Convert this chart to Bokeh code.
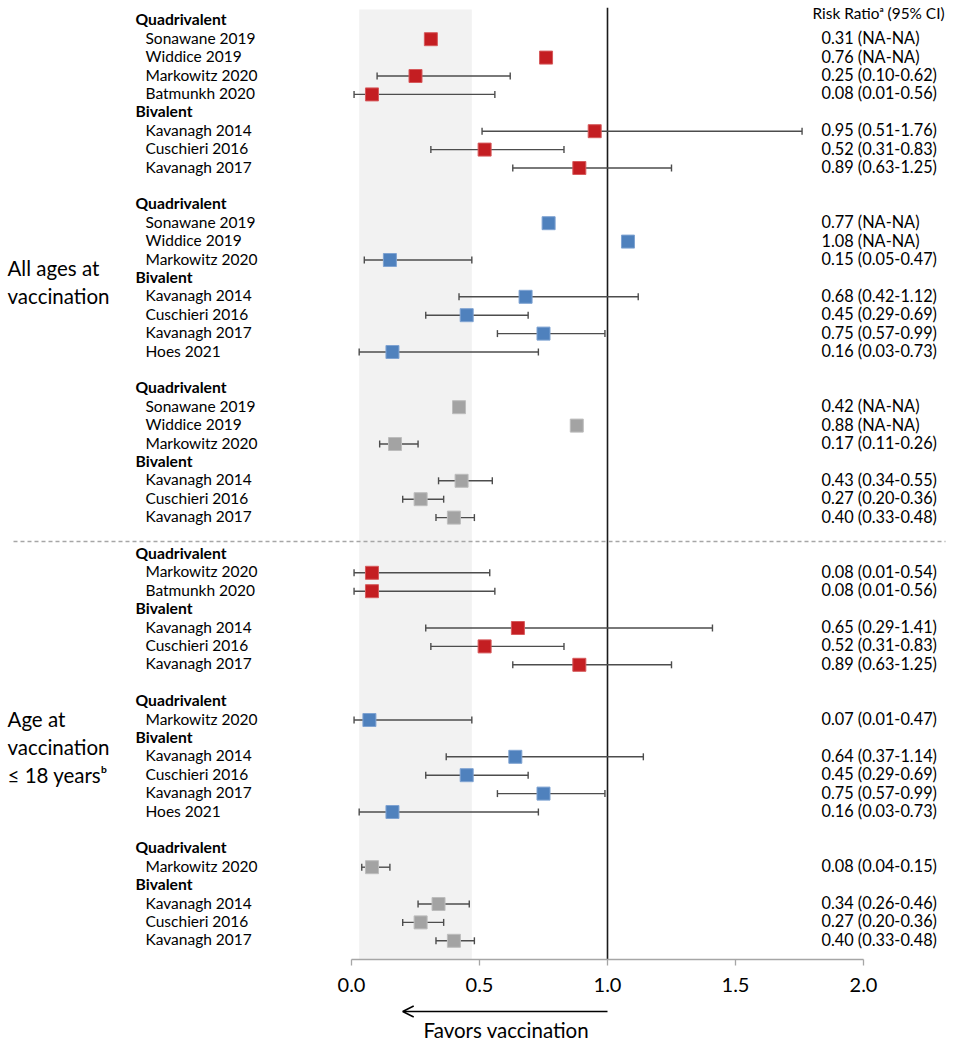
import math
from bokeh.plotting import figure
from bokeh.models import (ColumnDataSource, Range1d, LinearAxis, FixedTicker,
                          NumeralTickFormatter, Arrow, OpenHead)
from bokeh.core.properties import value
from bokeh.embed import file_html
from bokeh.resources import INLINE

NA = float("nan")

# ---------------- data ----------------
age_groups = ["All ages at\nvaccination", "Age at\nvaccination\n\u2264 18 years\u1d47"]
block_age = [0, 0, 0, 1, 1, 1]          # age group of each block
block_outcome = [0, 1, 2, 0, 1, 2]      # colour series of each block

block = [0]*7 + [1]*7 + [2]*6 + [3]*5 + [4]*5 + [5]*4
vaccine = (["Quadrivalent"]*4 + ["Bivalent"]*3 +
           ["Quadrivalent"]*3 + ["Bivalent"]*4 +
           ["Quadrivalent"]*3 + ["Bivalent"]*3 +
           ["Quadrivalent"]*2 + ["Bivalent"]*3 +
           ["Quadrivalent"]*1 + ["Bivalent"]*4 +
           ["Quadrivalent"]*1 + ["Bivalent"]*3)
study = ["Sonawane 2019", "Widdice 2019", "Markowitz 2020", "Batmunkh 2020",
         "Kavanagh 2014", "Cuschieri 2016", "Kavanagh 2017",
         "Sonawane 2019", "Widdice 2019", "Markowitz 2020",
         "Kavanagh 2014", "Cuschieri 2016", "Kavanagh 2017", "Hoes 2021",
         "Sonawane 2019", "Widdice 2019", "Markowitz 2020",
         "Kavanagh 2014", "Cuschieri 2016", "Kavanagh 2017",
         "Markowitz 2020", "Batmunkh 2020",
         "Kavanagh 2014", "Cuschieri 2016", "Kavanagh 2017",
         "Markowitz 2020",
         "Kavanagh 2014", "Cuschieri 2016", "Kavanagh 2017", "Hoes 2021",
         "Markowitz 2020",
         "Kavanagh 2014", "Cuschieri 2016", "Kavanagh 2017"]
rr = [0.31, 0.76, 0.25, 0.08, 0.95, 0.52, 0.89,
      0.77, 1.08, 0.15, 0.68, 0.45, 0.75, 0.16,
      0.42, 0.88, 0.17, 0.43, 0.27, 0.40,
      0.08, 0.08, 0.65, 0.52, 0.89,
      0.07, 0.64, 0.45, 0.75, 0.16,
      0.08, 0.34, 0.27, 0.40]
lo = [NA, NA, 0.10, 0.01, 0.51, 0.31, 0.63,
      NA, NA, 0.05, 0.42, 0.29, 0.57, 0.03,
      NA, NA, 0.11, 0.34, 0.20, 0.33,
      0.01, 0.01, 0.29, 0.31, 0.63,
      0.01, 0.37, 0.29, 0.57, 0.03,
      0.04, 0.26, 0.20, 0.33]
hi = [NA, NA, 0.62, 0.56, 1.76, 0.83, 1.25,
      NA, NA, 0.47, 1.12, 0.69, 0.99, 0.73,
      NA, NA, 0.26, 0.55, 0.36, 0.48,
      0.54, 0.56, 1.41, 0.83, 1.25,
      0.47, 1.14, 0.69, 0.99, 0.73,
      0.15, 0.46, 0.36, 0.48]
x_ticks = [0.0, 0.5, 1.0, 1.5, 2.0]
shade_lo, shade_hi = 0.03, 0.47
null_value = 1.0
arrow_from, arrow_to = 1.0, 0.2
arrow_label = "Favors vaccination"
column_header = "Risk Ratio\u1d43 (95% CI)"

# ---------------- styles ----------------
palette = ["#C41E22", "#4F81BD", "#A3A3A3"]
edge = ["#D65A5C", "#7FA3D2", "#BDBDBD"]
FONT = "Lato"

# ---------------- layout (rows) ----------------
rows, header_rows, header_text, sep_rows = [], [], [], []
r = 0
prev_b, prev_v = None, None
for i in range(len(study)):
    b = block[i]
    if prev_b is not None and b != prev_b:
        if block_age[b] != block_age[prev_b]:
            sep_rows.append(r + 0.3)
        r += 1
        prev_v = None
    if vaccine[i] != prev_v:
        header_rows.append(r)
        header_text.append(vaccine[i])
        r += 1
    rows.append(r)
    r += 1
    prev_b, prev_v = b, vaccine[i]
axis_row = r

W, H = 952, 1046
px_per_unit = 256.0
x0_px = 351.0
row_px = 18.4
row0_px = 20.3


def px2x(px):
    return (px - x0_px) / px_per_unit


x_start = px2x(0)
x_end = px2x(W)
y_top = -row0_px / row_px
y_bot = (H - row0_px) / row_px

p = figure(width=W, height=H, output_backend="svg", toolbar_location=None,
           x_range=Range1d(x_start, x_end), y_range=Range1d(y_bot, y_top),
           min_border=0, x_axis_type=None, y_axis_type=None)
p.outline_line_color = None
p.xgrid.visible = False
p.ygrid.visible = False

# shaded band
p.quad(left=[shade_lo], right=[shade_hi], top=[-0.61], bottom=[axis_row],
       fill_color="#F2F2F2", line_color=None)
# null line
p.segment(x0=[null_value], x1=[null_value], y0=[-0.71], y1=[axis_row],
          line_color="#1a1a1a", line_width=1.6)
# separators
for s in sep_rows:
    p.segment(x0=[px2x(13)], x1=[px2x(945)], y0=[s], y1=[s],
              line_color="#A6A6A6", line_width=1.3, line_dash="4 3")

# error bars + markers
cap = 0.19
for k in range(3):
    idx = [i for i in range(len(study)) if block_outcome[block[i]] == k]
    ci = [i for i in idx if not math.isnan(lo[i])]
    src_ci = ColumnDataSource(dict(y=[rows[i] for i in ci], lo=[lo[i] for i in ci],
                                   hi=[hi[i] for i in ci],
                                   yt=[rows[i] - cap for i in ci],
                                   yb=[rows[i] + cap for i in ci]))
    p.segment(x0="lo", x1="hi", y0="y", y1="y", source=src_ci,
              line_color="#4D4D4D", line_width=1.4)
    p.segment(x0="lo", x1="lo", y0="yt", y1="yb", source=src_ci,
              line_color="#4D4D4D", line_width=1.4)
    p.segment(x0="hi", x1="hi", y0="yt", y1="yb", source=src_ci,
              line_color="#4D4D4D", line_width=1.4)
    src_pt = ColumnDataSource(dict(x=[rr[i] for i in idx], y=[rows[i] for i in idx]))
    p.scatter(x="x", y="y", source=src_pt, marker="square", size=13,
              fill_color=palette[k], line_color=edge[k], line_width=1)

# texts
name_x = px2x(145)
head_x = px2x(135)
val_x = px2x(821)
colh_x = px2x(812)
grp_x = px2x(7)
dy = -0.08

p.text(x=[head_x]*len(header_rows), y=[h + dy for h in header_rows], text=header_text,
       text_font=value(FONT), text_font_style="bold", text_font_size="15.7px",
       text_baseline="middle", text_color="#000000")
p.text(x=[name_x]*len(rows), y=[q + dy for q in rows], text=study,
       text_font=value(FONT), text_font_size="15.5px",
       text_baseline="middle", text_color="#000000")


def fmt(i):
    if math.isnan(lo[i]):
        return f"{rr[i]:.2f} (NA-NA)"
    return f"{rr[i]:.2f} ({lo[i]:.2f}-{hi[i]:.2f})"


p.text(x=[val_x]*len(rows), y=[q + dy for q in rows],
       text=[fmt(i) for i in range(len(study))],
       text_font=value(FONT), text_font_size="16.3px",
       text_baseline="middle", text_color="#000000")
p.text(x=[colh_x], y=[-0.41], text=[column_header],
       text_font=value(FONT), text_font_size="15.4px",
       text_baseline="middle", text_color="#000000")
p.text(x=[grp_x]*2, y=[14.2, 39.45], text=age_groups,
       text_font=value(FONT), text_font_size="20.5px", text_line_height=1.17,
       text_baseline="middle", text_color="#000000")

# x axis inside frame
ax = LinearAxis(fixed_location=axis_row, bounds=(x_ticks[0], x_ticks[-1]),
                ticker=FixedTicker(ticks=x_ticks),
                formatter=NumeralTickFormatter(format="0.0"))
ax.axis_line_color = "#A6A6A6"
ax.axis_line_width = 1.3
ax.major_tick_line_color = "#A6A6A6"
ax.major_tick_line_width = 1.3
ax.major_tick_in = 0
ax.major_tick_out = 6
ax.minor_tick_line_color = None
ax.major_label_text_font = FONT
ax.major_label_text_font_size = "20px"
ax.major_label_text_color = "#000000"
ax.major_label_standoff = 13
p.add_layout(ax, "below")

p.add_layout(Arrow(end=OpenHead(size=11, line_width=1.5, line_color="#000000"),
                   x_start=arrow_from, y_start=axis_row + 2.84,
                   x_end=arrow_to, y_end=axis_row + 2.84,
                   line_width=1.5, line_color="#000000"))
p.text(x=[(arrow_from + arrow_to) / 2 + 0.005], y=[axis_row + 3.87], text=[arrow_label],
       text_font=value(FONT), text_font_size="20.5px", text_align="center",
       text_baseline="middle", text_color="#000000")

open("out.html", "w").write(file_html(p, INLINE))
